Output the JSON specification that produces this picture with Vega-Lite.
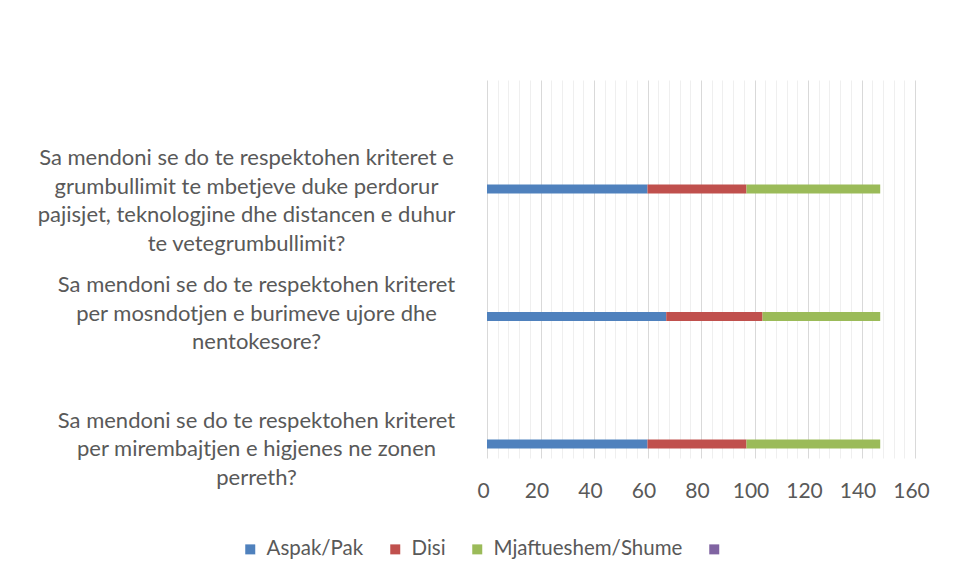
{
  "$schema": "https://vega.github.io/schema/vega-lite/v6.json",
  "width": 428,
  "height": 378,
  "autosize": {"type": "none"},
  "padding": {"left": 487, "top": 80, "right": 41, "bottom": 122},
  "background": "white",
  "config": {
    "view": {"stroke": null},
    "font": "Lato",
    "axis": {"labelColor": "#595959", "labelFont": "Lato"},
    "legend": {"labelColor": "#595959", "labelFont": "Lato"}
  },
  "data": {
    "values": [
      {"question": "Sa mendoni se do te respektohen kriteret e grumbullimit te mbetjeve duke perdorur pajisjet, teknologjine dhe distancen e duhur te vetegrumbullimit?", "series": "Aspak/Pak", "value": 60},
      {"question": "Sa mendoni se do te respektohen kriteret e grumbullimit te mbetjeve duke perdorur pajisjet, teknologjine dhe distancen e duhur te vetegrumbullimit?", "series": "Disi", "value": 37},
      {"question": "Sa mendoni se do te respektohen kriteret e grumbullimit te mbetjeve duke perdorur pajisjet, teknologjine dhe distancen e duhur te vetegrumbullimit?", "series": "Mjaftueshem/Shume", "value": 50},
      {"question": "Sa mendoni se do te respektohen kriteret per mosndotjen e burimeve ujore dhe nentokesore?", "series": "Aspak/Pak", "value": 67},
      {"question": "Sa mendoni se do te respektohen kriteret per mosndotjen e burimeve ujore dhe nentokesore?", "series": "Disi", "value": 36},
      {"question": "Sa mendoni se do te respektohen kriteret per mosndotjen e burimeve ujore dhe nentokesore?", "series": "Mjaftueshem/Shume", "value": 44},
      {"question": "Sa mendoni se do te respektohen kriteret per mirembajtjen e higjenes ne zonen perreth?", "series": "Aspak/Pak", "value": 60},
      {"question": "Sa mendoni se do te respektohen kriteret per mirembajtjen e higjenes ne zonen perreth?", "series": "Disi", "value": 37},
      {"question": "Sa mendoni se do te respektohen kriteret per mirembajtjen e higjenes ne zonen perreth?", "series": "Mjaftueshem/Shume", "value": 50}
    ]
  },
  "mark": {"type": "bar", "size": 9},
  "encoding": {
    "y": {
      "field": "question",
      "type": "nominal",
      "sort": null,
      "scale": {"paddingInner": 0.78, "paddingOuter": 0.3725, "align": 1, "round": false},
      "axis": {
        "title": null,
        "domain": false,
        "ticks": false,
        "tickSize": 0,
        "grid": false,
        "labelAlign": "center",
        "labelBaseline": "middle",
        "labelPadding": {"condition": {"test": "indexof(datum.value, 'grumbullimit') >= 0", "value": 241}, "value": 231},
        "labelOffset": {"condition": {"test": "indexof(datum.value, 'higjenes') >= 0", "value": -23}, "value": -31},
        "labelFontSize": 22,
        "labelLineHeight": 28.5,
        "labelLimit": 0,
        "labelExpr": "indexof(datum.value, 'grumbullimit') >= 0 ? ['Sa mendoni se do te respektohen kriteret e', 'grumbullimit te mbetjeve duke perdorur', 'pajisjet, teknologjine dhe distancen e duhur', 'te vetegrumbullimit?'] : indexof(datum.value, 'mosndotjen') >= 0 ? ['Sa mendoni se do te respektohen kriteret', 'per mosndotjen e burimeve ujore dhe', 'nentokesore?'] : ['Sa mendoni se do te respektohen kriteret', 'per mirembajtjen e higjenes ne zonen', 'perreth?']"
      }
    },
    "x": {
      "field": "value",
      "type": "quantitative",
      "aggregate": "sum",
      "stack": "zero",
      "scale": {"domain": [0, 160], "nice": false},
      "axis": {
        "title": null,
        "domain": false,
        "ticks": false,
        "values": [0,4,8,12,16,20,24,28,32,36,40,44,48,52,56,60,64,68,72,76,80,84,88,92,96,100,104,108,112,116,120,124,128,132,136,140,144,148,152,156,160],
        "labelExpr": "datum.value % 20 === 0 ? datum.label : ''",
        "labelFontSize": 21,
        "labelPadding": 22,
        "labelOffset": -4,
        "labelFlush": false,
        "labelOverlap": false,
        "grid": true,
        "gridColor": {"condition": {"test": "datum.value % 20 === 0", "value": "#d9d9d9"}, "value": "#efefef"},
        "gridWidth": 1
      }
    },
    "color": {
      "field": "series",
      "type": "nominal",
      "scale": {
        "domain": ["Aspak/Pak", "Disi", "Mjaftueshem/Shume", " "],
        "range": ["#4F81BD", "#C0504D", "#9BBB59", "#8064A2"]
      },
      "legend": {
        "title": null,
        "orient": "none",
        "direction": "horizontal",
        "legendX": -247,
        "legendY": 459,
        "symbolType": "square",
        "symbolSize": 100,
        "symbolStrokeWidth": 0,
        "labelFontSize": 20.5,
        "labelOffset": 6,
        "labelLimit": 400,
        "columnPadding": 21
      }
    }
  }
}
